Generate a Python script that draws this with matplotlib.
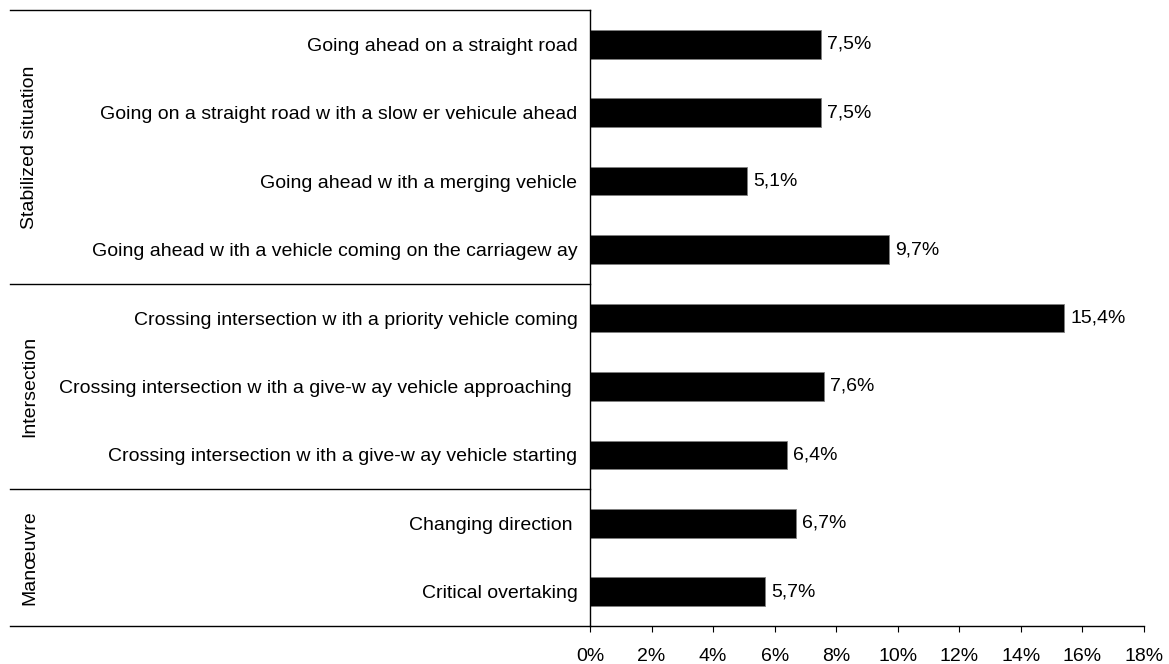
import matplotlib.pyplot as plt
import matplotlib.transforms as mtransforms
from matplotlib.ticker import FuncFormatter

plt.rcParams['font.family'] = ['Liberation Sans', 'DejaVu Sans']

# Situations (top to bottom) and share of cases in %
situations = [
    'Going ahead on a straight road',
    'Going on a straight road w ith a slow er vehicule ahead',
    'Going ahead w ith a merging vehicle',
    'Going ahead w ith a vehicle coming on the carriagew ay',
    'Crossing intersection w ith a priority vehicle coming',
    'Crossing intersection w ith a give-w ay vehicle approaching ',
    'Crossing intersection w ith a give-w ay vehicle starting',
    'Changing direction ',
    'Critical overtaking',
]
shares = [7.5, 7.5, 5.1, 9.7, 15.4, 7.6, 6.4, 6.7, 5.7]

# Groups and how many situations each one holds
groups = ['Stabilized situation', 'Intersection', 'Manœuvre']
group_sizes = [4, 3, 2]

x_ticks = [0, 2, 4, 6, 8, 10, 12, 14, 16, 18]

FS = 14

fig = plt.figure(figsize=(11.69, 6.64), dpi=100)
ax = fig.add_axes([590 / 1169, 1 - 626 / 664, 554 / 1169, 616 / 664])

n = len(situations)
ypos = list(range(n))
ax.barh(ypos, shares, height=0.42, color='black', edgecolor='#808080', linewidth=0.6)

for y, v in zip(ypos, shares):
    ax.text(v + 0.2, y, f'{v:.1f}%'.replace('.', ','), va='center', ha='left', fontsize=FS)

ax.set_ylim(n - 0.5, -0.5)
ax.set_xlim(0, 18)
ax.set_yticks(ypos)
ax.set_yticklabels(situations, fontsize=FS)
ax.tick_params(axis='y', length=0, pad=9)
ax.set_xticks(x_ticks)
ax.xaxis.set_major_formatter(FuncFormatter(lambda v, p: f'{v:.0f}%'))
ax.tick_params(axis='x', length=4, direction='out', labelsize=FS, pad=12)

for s in ['top', 'right']:
    ax.spines[s].set_visible(False)
for s in ['left', 'bottom']:
    ax.spines[s].set_linewidth(1.0)

# group separators and labels on the left
trans = mtransforms.blended_transform_factory(ax.transAxes, ax.transData)
x_left = -(590 - 10) / 554
start = -0.5
ax.plot([x_left, 0], [start, start], color='black', lw=1.0, transform=trans, clip_on=False)
for g, size in zip(groups, group_sizes):
    end = start + size
    ax.plot([x_left, 0], [end, end], color='black', lw=1.0, transform=trans, clip_on=False)
    ax.text(-(590 - 30) / 554, (start + end) / 2, g, rotation=90, va='center', ha='center',
            fontsize=FS, transform=trans)
    start = end

fig.savefig('out.png', dpi=100)
